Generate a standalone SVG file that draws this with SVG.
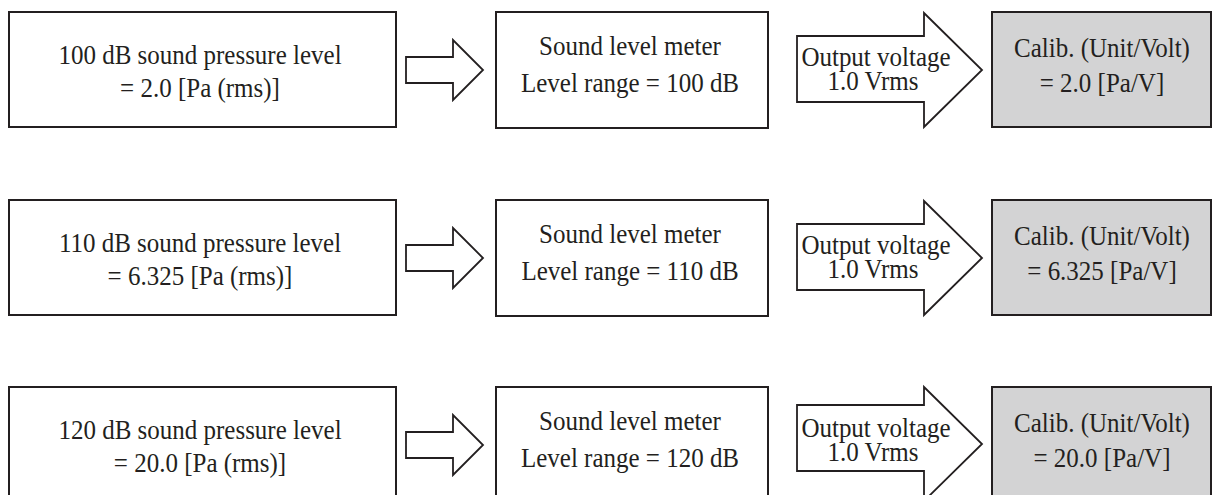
<svg xmlns="http://www.w3.org/2000/svg" width="1213" height="495" viewBox="0 0 1213 495">
<style>
.box{fill:#ffffff;stroke:#231f20;stroke-width:2}
.cal{fill:#d3d3d4;stroke:#231f20;stroke-width:2}
.arr{fill:#ffffff;stroke:#231f20;stroke-width:1.8;stroke-linejoin:miter}
text{font-family:"Liberation Serif","Times New Roman",serif;font-size:25px;fill:#231f20;text-anchor:middle}
</style>
<rect width="1213" height="495" fill="#ffffff"/>
<g id="row1">
<g id="spl100"><rect class="box" x="9" y="12" width="387" height="115"/><text transform="translate(200,64) scale(1,1.1)">100 dB sound pressure level</text><text transform="translate(200,97) scale(1,1.1)">= 2.0 [Pa (rms)]</text></g>
<g id="slm100"><rect class="box" x="496" y="12" width="272" height="116"/><text transform="translate(630,55) scale(1,1.1)">Sound level meter</text><text transform="translate(630,92) scale(1,1.1)">Level range = 100 dB</text></g>
<g id="cal100"><rect class="cal" x="992" y="12" width="219" height="115"/><text transform="translate(1102,57) scale(1,1.1)">Calib. (Unit/Volt)</text><text transform="translate(1102,92) scale(1,1.1)">= 2.0 [Pa/V]</text></g>
</g>
<g id="row2">
<g id="spl110"><rect class="box" x="9" y="200" width="387" height="115"/><text transform="translate(200,252) scale(1,1.1)">110 dB sound pressure level</text><text transform="translate(200,285) scale(1,1.1)">= 6.325 [Pa (rms)]</text></g>
<g id="slm110"><rect class="box" x="496" y="200" width="272" height="116"/><text transform="translate(630,243) scale(1,1.1)">Sound level meter</text><text transform="translate(630,280) scale(1,1.1)">Level range = 110 dB</text></g>
<g id="cal110"><rect class="cal" x="992" y="200" width="219" height="115"/><text transform="translate(1102,245) scale(1,1.1)">Calib. (Unit/Volt)</text><text transform="translate(1102,280) scale(1,1.1)">= 6.325 [Pa/V]</text></g>
</g>
<g id="row3">
<g id="spl120"><rect class="box" x="9" y="387" width="387" height="115"/><text transform="translate(200,439) scale(1,1.1)">120 dB sound pressure level</text><text transform="translate(200,472) scale(1,1.1)">= 20.0 [Pa (rms)]</text></g>
<g id="slm120"><rect class="box" x="496" y="387" width="272" height="116"/><text transform="translate(630,430) scale(1,1.1)">Sound level meter</text><text transform="translate(630,467) scale(1,1.1)">Level range = 120 dB</text></g>
<g id="cal120"><rect class="cal" x="992" y="387" width="219" height="115"/><text transform="translate(1102,432) scale(1,1.1)">Calib. (Unit/Volt)</text><text transform="translate(1102,467) scale(1,1.1)">= 20.0 [Pa/V]</text></g>
</g>
<g id="connectors">
<path class="arr" d="M406,57 H453 V40 L483,70 L453,100 V83 H406 Z"/>
<path class="arr" d="M797,36 H924 V13 L982,70 L924,127 V102 H797 Z"/>
<text transform="translate(876,66) scale(1,1.1)">Output voltage</text><text transform="translate(873,90) scale(1,1.1)">1.0 Vrms</text>
<path class="arr" d="M406,245 H453 V228 L483,258 L453,288 V271 H406 Z"/>
<path class="arr" d="M797,224 H924 V201 L982,258 L924,315 V290 H797 Z"/>
<text transform="translate(876,254) scale(1,1.1)">Output voltage</text><text transform="translate(873,278) scale(1,1.1)">1.0 Vrms</text>
<path class="arr" d="M406,432 H453 V415 L483,445 L453,475 V458 H406 Z"/>
<path class="arr" d="M797,405 H924 V387 L982,444 L924,501 V471 H797 Z"/>
<text transform="translate(876,437) scale(1,1.1)">Output voltage</text><text transform="translate(873,461) scale(1,1.1)">1.0 Vrms</text>
</g>
</svg>
